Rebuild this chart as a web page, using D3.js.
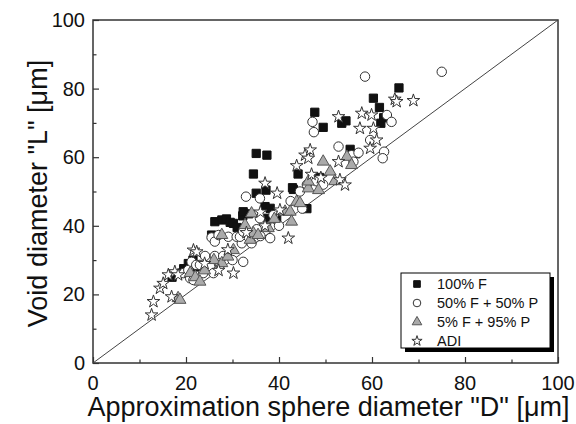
<!DOCTYPE html>
<html>
<head>
<meta charset="utf-8">
<script src="https://cdn.jsdelivr.net/npm/d3@7"></script>
<style>
  body { margin: 0; background: #fff; }
  svg { display: block; font-family: "Liberation Sans", Arial, sans-serif; }
</style>
</head>
<body>
<svg id="viz"></svg>
<script>
const width = 576, height = 424;
const svg = d3.select("#viz").attr("width", width).attr("height", height);

// data: [D, L] in µm
const fullF = [
  [17,25],[19.5,27.5],[20.5,29],[21.5,30],[22,28],[25.5,37.3],[26.2,41.2],[27.7,41.7],
  [28.7,42],[29.5,41],[30.2,40.7],[31,39.5],[32.2,42.9],[32.3,44.1],[33.5,43.5],
  [34.5,55.1],[35.1,61.1],[37.4,60.6],[35.1,49.5],[37.2,50.4],[37,45.6],[38.1,45.1],
  [37.6,42.2],[39.5,42],[43.1,50.6],[42.9,51.1],[44.1,55.1],[46,45],[47.7,73.1],
  [48.7,54.1],[49.5,68.7],[53.5,69.9],[54.4,70.6],[55.3,62.3],[56.5,61],[60.3,77.2],
  [61.6,74.5],[61.9,69.9],[62.5,71.5],[65.8,80.2]
];
const halfF = [
  [19.4,26.2],[20.5,27.1],[20.9,24.7],[21.2,29.5],[22.2,28.6],[21.6,24.2],[23,28.6],
  [23.7,26.2],[25.2,28.1],[25.9,26.2],[27.3,28.6],[24.1,31.2],[26.2,31.2],[28,31.2],
  [25.5,36.6],[26.2,35.4],[27,37.3],[29.1,36.8],[30.9,36.8],[32.7,36.1],[32,34.9],
  [34.1,34.9],[31.6,36.8],[32.3,29.5],[30,30],[32.9,48.5],[35.9,48],[35.2,39],[32.3,38.3],
  [35.9,42.2],[38.8,43.1],[38.1,36.4],[36,37],[40,40],[42.5,47.2],[45,45],[44.5,50],
  [46,52],[48,53],[49.5,52],[47.2,70.3],[47.5,67.3],[52.8,63.1],[55.6,60.6],[57.1,61.3],
  [56,58.7],[59.6,65],[58.5,83.5],[62.6,61.6],[62.3,59.7],[63.2,72.3],[64.2,70.3],[75,84.9]
];
const fiveF = [
  [18.3,18.9],[18.7,18.4],[20.9,26.2],[22,25],[23,23.7],[24,27],[26,30],[27.7,29.1],
  [27.7,37.3],[29,31],[30.2,32.9],[32.7,40.2],[33.8,35.9],[34.1,43.6],[34.5,37.8],
  [35.5,37.3],[37.7,39.3],[39,42],[41.3,44.1],[42.4,44.1],[42.7,41.2],[43.8,47],
  [44.5,46.6],[46.3,50.9],[46.3,52.9],[48.5,50.4],[49.5,58.7],[51,55.8],[52,53],
  [54.6,60.1],[55.6,57.7]
];
const adi = [
  [12.6,14],[13,17.9],[14.4,21.8],[15.1,23.2],[16.9,19.3],[16.2,25.7],[17.6,26.6],
  [18.3,25.7],[21.6,32.9],[22.3,32.4],[24,29],[27,27],[30.2,26.2],[29,33],[33,38],
  [36,44],[37,40],[37,52.4],[39.6,49.5],[40.2,44.6],[42,36.4],[43.8,57.5],[45.6,60.6],
  [46.3,59.7],[46.7,62.1],[47,55],[49,54],[52.8,58.7],[53.1,53.4],[54.2,51.9],
  [52.8,71.8],[57.8,72.8],[59.9,72.3],[57.4,68.4],[60.3,68.4],[59.6,62.6],[61,65],
  [64.9,76.9],[65.3,76.2],[68.9,76.5]
];

const xTicks = [0, 20, 40, 60, 80, 100];
const yTicks = [0, 20, 40, 60, 80, 100];
const minorTicks = [10, 30, 50, 70, 90];

const margin = { left: 93, right: 18, top: 20, bottom: 61 };
const x = d3.scaleLinear().domain([0, 100]).range([margin.left, width - margin.right]);
const y = d3.scaleLinear().domain([0, 100]).range([height - margin.bottom, margin.top]);

const axisColor = "#333";

// frame
svg.append("rect")
  .attr("x", x(0)).attr("y", y(100))
  .attr("width", x(100) - x(0)).attr("height", y(0) - y(100))
  .attr("fill", "none").attr("stroke", axisColor).attr("stroke-width", 1.5);

// inward ticks
function tickAxis(axis, pos) {
  const g = svg.append("g").attr("transform", pos)
    .call(axis.tickFormat("").tickSizeOuter(0));
  g.select(".domain").remove();
  g.selectAll("line").attr("stroke", axisColor).attr("stroke-width", 1.2);
  return g;
}
tickAxis(d3.axisBottom(x).tickValues(xTicks).tickSize(-6), `translate(0,${y(0)})`);
tickAxis(d3.axisBottom(x).tickValues(minorTicks).tickSize(-3.5), `translate(0,${y(0)})`);
tickAxis(d3.axisLeft(y).tickValues(yTicks).tickSize(-6), `translate(${x(0)},0)`);
tickAxis(d3.axisLeft(y).tickValues(minorTicks).tickSize(-3.5), `translate(${x(0)},0)`);

// tick labels
svg.append("g").selectAll("text").data(xTicks).join("text")
  .attr("x", d => x(d)).attr("y", 390)
  .attr("text-anchor", "middle").attr("font-size", 20).attr("fill", "#111")
  .text(d => d);
svg.append("g").selectAll("text").data(yTicks).join("text")
  .attr("x", 85).attr("y", d => y(d) + 7)
  .attr("text-anchor", "end").attr("font-size", 20).attr("fill", "#111")
  .text(d => d);

// axis titles
svg.append("text")
  .attr("x", (x(0) + x(100)) / 2 + 3).attr("y", 416)
  .attr("text-anchor", "middle").attr("font-size", 27).attr("fill", "#111")
  .text('Approximation sphere diameter "D" [\u03bcm]');
svg.append("text")
  .attr("transform", `translate(47,${(y(0) + y(100)) / 2 + 2}) rotate(-90)`)
  .attr("text-anchor", "middle").attr("font-size", 27).attr("fill", "#111")
  .text('Void diameter "L" [\u03bcm]');

// y = x line
svg.append("line")
  .attr("x1", x(0)).attr("y1", y(0)).attr("x2", x(100)).attr("y2", y(100))
  .attr("stroke", "#444").attr("stroke-width", 1);

const series = [
  { name: "100% F", data: fullF, type: d3.symbolSquare, size: 68, fill: "#111", stroke: "#111" },
  { name: "50% F + 50% P", data: halfF, type: d3.symbolCircle, size: 70, fill: "#fff", stroke: "#333" },
  { name: "5% F + 95% P", data: fiveF, type: d3.symbolTriangle, size: 62, fill: "#aaa", stroke: "#555" },
  { name: "ADI", data: adi, type: d3.symbolStar, size: 50, fill: "#fff", stroke: "#333" }
];

series.forEach(s => {
  svg.append("g").selectAll("path").data(s.data).join("path")
    .attr("transform", d => `translate(${x(d[0])},${y(d[1])})`)
    .attr("d", d3.symbol().type(s.type).size(s.size))
    .attr("fill", s.fill).attr("stroke", s.stroke).attr("stroke-width", 1);
});

// legend
const lg = svg.append("g").attr("transform", "translate(401,273)");
const lw = 149, lh = 75;
lg.append("rect").attr("x", 4).attr("y", 4).attr("width", lw).attr("height", lh).attr("fill", "#000");
lg.append("rect").attr("width", lw).attr("height", lh).attr("fill", "#fff")
  .attr("stroke", "#000").attr("stroke-width", 1);
series.forEach((s, i) => {
  const cy = 11 + i * 19;
  lg.append("path")
    .attr("transform", `translate(16,${cy})`)
    .attr("d", d3.symbol().type(s.type).size(s.size * 0.65))
    .attr("fill", s.fill).attr("stroke", s.stroke).attr("stroke-width", 1);
  lg.append("text")
    .attr("x", 36).attr("y", cy + 5)
    .attr("font-size", 14.5).attr("fill", "#111")
    .text(s.name);
});
</script>
</body>
</html>
